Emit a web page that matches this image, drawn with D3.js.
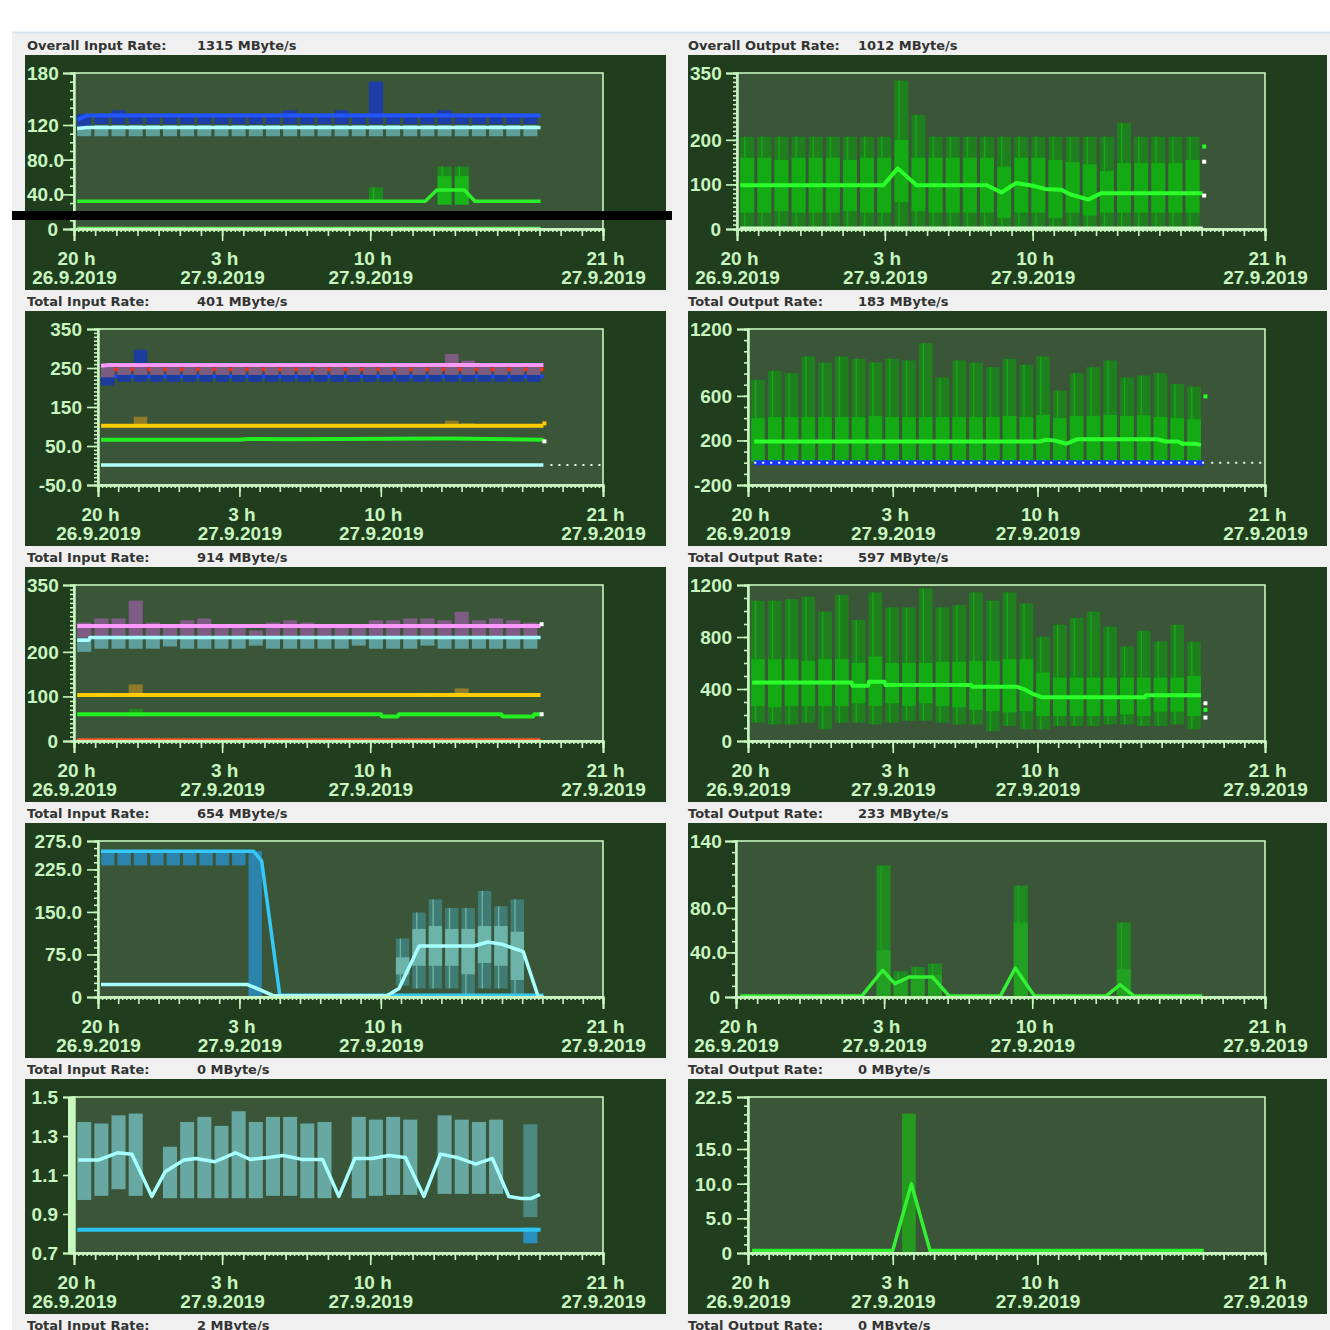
<!DOCTYPE html>
<html><head><meta charset="utf-8">
<script src="https://cdn.jsdelivr.net/npm/d3@7"></script>
<style>html,body{margin:0;padding:0;background:#fff;}svg{display:block;}</style>
</head><body>
<svg id="c" width="1330" height="1330"></svg>
<script>
// ================= DATA =================
const HOUR_TICKS = [0, 7, 14, 25];
const HOUR_LABELS = ["20 h", "3 h", "10 h", "21 h"];
const DATE_LABELS = ["26.9.2019", "27.9.2019", "27.9.2019", "27.9.2019"];

const TITLES = ["Overall Input Rate:", "Overall Output Rate:", "Total Input Rate:", "Total Output Rate:",
  "Total Input Rate:", "Total Output Rate:", "Total Input Rate:", "Total Output Rate:",
  "Total Input Rate:", "Total Output Rate:", "Total Input Rate:", "Total Output Rate:"];
const RATES = ["1315 MByte/s", "1012 MByte/s", "401 MByte/s", "183 MByte/s", "914 MByte/s", "597 MByte/s",
  "654 MByte/s", "233 MByte/s", "0 MByte/s", "0 MByte/s", "2 MByte/s", "0 MByte/s"];

// panel 1
const p1Ticks = [0, 40, 80, 120, 180], p1Labels = ["0", "40.0", "80.0", "120", "180"];
const p1BlueMax = [133,133,137,133,133,133,133,133,133,133,133,133,137,133,133,137,133,170,133,133,133,137,133,133,133,133,133];
const p1BlueMin = [118,121,121,121,121,121,121,121,121,121,121,121,121,121,121,121,121,121,121,121,121,121,121,121,121,121,121];
const p1TealMax = [120,120,120,120,120,120,120,120,120,120,120,120,120,120,120,120,120,120,120,120,120,120,120,120,120,120,120];
const p1TealMin = [107,107,107,107,107,107,107,107,107,107,107,107,107,107,107,107,107,107,107,107,107,107,107,107,107,107,107];
const p1BlueLine = [[0.15,126],[0.6,131],[22.05,131]];
const p1CyanLine = [[0.15,116],[0.6,117],[22.05,117]];
const p1GreenIdx = [17, 21, 22], p1GreenMin = [32, 30, 30], p1GreenQ1 = [32, 28, 28], p1GreenQ3 = [32, 61, 61], p1GreenMax = [48, 72, 72];
const p1GreenLine = [[0.15,32],[16.6,32],[17.15,45],[18.45,45],[18.95,32],[22.05,32]];
const p1ZeroLine = [[0.15,1],[22.05,1]];

// panel 2
const p2Ticks = [0, 100, 200, 350], p2Labels = ["0", "100", "200", "350"];
const p2Min = [4,4,4,4,4,4,4,4,4,4,4,4,4,4,4,4,4,4,4,4,4,4,4,4,4,4,4];
const p2Q1 = [37,37,40,37,37,37,40,37,37,60,40,37,37,37,37,25,37,37,25,37,30,37,37,37,37,37,37];
const p2Q3 = [160,160,155,160,160,160,155,160,160,200,160,160,160,160,160,140,160,160,155,150,145,130,148,148,148,148,155];
const p2Max = [207,207,207,207,207,207,207,207,207,333,256,207,207,207,207,207,207,207,207,207,207,207,238,207,207,207,207];
const p2Mean = [[0.15,98],[6.93,98],[7.61,136],[8.5,98],[11.83,98],[12.52,82],[13.2,103],[14,97],[14.58,90],[15.36,88],[15.76,78],[16.64,66],[17.23,80],[22.04,80]];
const p2ZeroLine = [[0.15,2],[22.05,2]];
const p2EndVals = [185, 151, 75];

// panel 3
const p3Ticks = [-50, 50, 150, 250, 350], p3Labels = ["-50.0", "50.0", "150", "250", "350"];
const p3PurpleMax = [258,258,258,258,258,258,258,258,258,258,258,258,258,258,258,258,258,258,258,258,258,286,269,258,258,258,258];
const p3PurpleMin = [226,232,232,232,232,232,232,232,232,232,232,232,232,232,232,232,232,232,232,232,232,232,232,232,232,232,232];
const p3BlueMax = [232,232,297,232,232,232,232,232,232,232,232,232,232,232,232,232,232,232,232,232,232,232,232,232,232,232,232];
const p3BlueMin = [205,214,214,214,214,214,214,214,214,214,214,214,214,214,214,214,214,214,214,214,214,214,214,214,214,214,214];
const p3YellowIdx = [2, 21, 22], p3YellowMin = [100, 100, 100], p3YellowMax = [125, 115, 108];
const p3PinkLine = [[0.15,256],[0.6,258],[22.05,258]];
const p3RedLine = [[0.15,247],[22.05,247]];
const p3BlueLine = [[0.15,222],[0.6,229],[22.05,229]];
const p3YellowLine = [[0.15,102],[22.05,102]];
const p3GreenLine = [[0.15,66],[7.0,66],[7.4,68],[9.5,67],[16.9,69],[17.6,69],[22.05,66]];
const p3CyanLine = [[0.15,1],[22.05,1]];
const p3DotLine = [[22.4,1],[25,1]];

// panel 4
const p4Ticks = [-200, 200, 600, 1200], p4Labels = ["-200", "200", "600", "1200"];
const p4Max = [744,825,804,954,900,954,933,900,933,918,1074,765,918,900,858,933,879,954,648,804,858,918,765,783,804,705,684];
const p4Q3 = [400,410,410,410,410,410,410,420,410,410,410,410,410,410,410,420,410,430,400,420,420,430,420,425,410,400,390];
const p4Q1 = [10,10,10,10,10,10,10,10,10,10,10,10,10,10,10,10,10,10,10,10,10,10,10,10,10,10,10];
const p4Min = [0,0,0,0,0,0,0,0,0,0,0,0,0,0,0,0,0,0,0,0,0,0,0,0,0,0,0];
const p4Mean = [[0.3,190],[14.1,190],[14.4,205],[14.8,200],[15.4,170],[15.9,210],[19.8,210],[20.2,190],[20.8,190],[21.0,170],[21.6,170],[21.9,160]];
const p4BlueLine = [[0.3,0],[22.05,0]];
const p4DotLine = [[22.4,0],[25,0]];
const p4EndVal = [595];

// panel 5
const p5Ticks = [0, 100, 200, 350], p5Labels = ["0", "100", "200", "350"];
const p5PurpleMax = [266,275,275,315,266,255,271,275,255,255,248,266,271,266,255,255,255,271,271,275,275,271,290,271,275,271,266];
const p5PurpleMin = [232,232,232,232,232,232,232,232,232,232,232,232,232,232,232,232,232,232,232,232,232,232,232,232,232,232,232];
const p5TealMax = [232,232,232,232,232,232,232,232,232,232,232,232,232,232,232,232,232,232,232,232,232,232,232,232,232,232,232];
const p5TealMin = [200,207,207,207,207,212,207,207,207,207,214,207,207,207,207,207,214,207,207,207,214,207,207,207,207,207,207];
const p5YellowIdx = [1, 3, 20, 22, 24], p5YellowMin = [100,100,100,100,100], p5YellowMax = [108,127,108,118,107];
const p5GreenIdx = [3], p5GreenMin = [55], p5GreenMax = [72];
const p5PinkLine = [[0.15,258],[22.05,258]];
const p5CyanLine = [[0.15,226],[0.7,226],[0.75,232],[22.05,232]];
const p5YellowLine = [[0.15,103],[22.05,103]];
const p5GreenLine = [[0.15,60],[14.5,60],[14.55,55],[15.3,55],[15.35,60],[20.2,60],[20.25,55],[21.7,55],[21.75,60],[22.05,60]];
const p5OrangeLine = [[0.15,3],[22.05,3]];
const p5EndVals = [262, 60];

// panel 6
const p6Ticks = [0, 400, 800, 1200], p6Labels = ["0", "400", "800", "1200"];
const p6Min = [141,128,128,141,90,141,141,128,141,155,155,141,128,128,77,115,90,90,115,115,115,128,128,115,115,128,90];
const p6Q1 = [270,260,270,270,270,270,290,270,290,270,290,270,260,240,230,220,230,193,193,193,193,193,205,193,225,225,193];
const p6Q3 = [630,630,630,615,630,630,600,650,600,600,600,610,610,615,615,630,630,527,488,488,488,488,488,488,488,488,500];
const p6Max = [1079,1079,1092,1110,995,1125,931,1143,1028,1028,1174,1028,1046,1143,1079,1143,1058,802,894,946,995,879,727,848,766,894,763];
const p6Mean = [[0.2,450],[5,450],[5.05,425],[5.8,425],[5.85,455],[6.6,455],[6.65,430],[10.8,430],[10.85,418],[13,418],[13.4,395],[13.8,360],[14.2,337],[19.2,337],[19.25,352],[21.9,352]];
const p6EndVals = [290, 240, 180];

// panel 7
const p7Ticks = [0, 75, 150, 225, 275], p7Labels = ["0", "75.0", "150.0", "225.0", "275.0"];
const p7BlueIdx = [0,1,2,3,4,5,6,7,8,9];
const p7BlueMin = [232,232,232,232,232,232,232,232,232,0];
const p7BlueMax = [257,257,257,257,257,257,257,257,257,257];
const p7BlueLine = [[0.15,257],[7.7,257],[8.1,240],[9.0,3],[22.05,3]];
const p7CyanLine = [[0.15,22],[7.4,22],[8.2,10],[8.7,2],[14.3,2],[14.9,15],[15.9,90],[18.6,90],[19.3,97],[20,93],[21.05,80],[21.8,0],[22.05,0]];
const p7TealIdx = [18,19,20,21,22,23,24,25];
const p7TealMin = [20,15,15,15,2,15,15,2];
const p7TealQ1 = [40,55,55,55,40,60,55,30];
const p7TealQ3 = [70,120,125,120,120,125,125,115];
const p7TealMax = [103,149,172,157,157,187,160,172];

// panel 8
const p8Ticks = [0, 40, 80, 140], p8Labels = ["0", "40.0", "80.0", "140"];
const p8Idx = [8, 9, 10, 11, 16, 22];
const p8Min = [0, 0, 0, 0, 0, 0];
const p8Q3 = [42, 15, 18, 20, 67, 25];
const p8Max = [118, 23, 27, 30, 100, 67];
const p8Line = [[0.2,1],[5.95,1],[6.93,24],[7.5,12],[8.2,18],[9.28,18],[10.07,1],[12.5,1],[13.2,26],[14.1,1],[17.5,1],[18.15,11],[18.8,1],[22.04,1]];

// panel 9
const p9Ticks = [0.7, 0.9, 1.1, 1.3, 1.5], p9Labels = ["0.7", "0.9", "1.1", "1.3", "1.5"];
const p9Idx = [0,1,2,3,5,6,7,8,9,10,11,12,13,14,16,17,18,19,21,22,23,24];
const p9Min = [0.972,0.993,1.027,0.993,0.981,0.981,0.981,0.981,0.981,0.981,0.993,0.993,0.981,0.981,0.981,0.993,0.998,0.998,1.003,1.003,1.003,1.003];
const p9Max = [1.372,1.364,1.406,1.415,1.245,1.372,1.398,1.352,1.427,1.372,1.398,1.398,1.364,1.372,1.398,1.384,1.398,1.384,1.406,1.384,1.372,1.384];
const p9LastIdx = [26], p9LastMin = [0.884], p9LastMax = [1.36];
const p9BlueIdx = [26], p9BlueMin = [0.75], p9BlueMax = [0.83];
const p9CyanLine = [[0.2,1.177],[1.17,1.177],[2.05,1.214],[2.74,1.207],[3.68,0.99],[4.31,1.117],[5.19,1.177],[5.77,1.185],[6.65,1.168],[7.63,1.214],[8.32,1.18],[9.2,1.19],[9.88,1.2],[10.76,1.18],[11.74,1.18],[12.52,0.99],[13.27,1.185],[14.09,1.185],[14.87,1.2],[15.66,1.19],[16.54,0.99],[17.32,1.207],[18.1,1.19],[18.98,1.156],[19.77,1.185],[20.55,0.99],[21.14,0.98],[21.62,0.98],[22.02,1.0]];
const p9BlueLine = [[0.15,0.819],[22.05,0.819]];

// panel 10
const p10Ticks = [0, 5, 10, 15, 22.5], p10Labels = ["0", "5.0", "10.0", "15.0", "22.5"];
const p10Idx = [9], p10Min = [0], p10Max = [20.1];
const p10Line = [[0.2,0.35],[7.0,0.35],[7.9,9.97],[8.8,0.35],[22.04,0.35]];

// ================= LAYOUT / DRAWING =================
const BAR_START = 0.15, BAR_STEP = 0.811, BAR_W = 0.811 * 0.82;
const C = {outer: "#203e1d", plot: "#3a5537", axis: "#c8f5c0", box: "#13aa13", range: "#1f7f1f", mean: "#2bff2b"};
const TICK_FONT = "'Liberation Sans',Arial,sans-serif";

const svg = d3.select("#c");
svg.append("rect").attr("width", 1330).attr("height", 1330).attr("fill", "#ffffff");
svg.append("rect").attr("x", 12).attr("y", 33).attr("width", 1318).attr("height", 1297).attr("fill", "#f0f0f0");
svg.append("line").attr("x1", 12).attr("x2", 1330).attr("y1", 32.5).attr("y2", 32.5).attr("stroke", "#d5e3f2").attr("stroke-width", 2);

const ROW0 = 55, PITCH = 256;
const panelLayouts = [
  {row:0,col:0,left:74},{row:0,col:1,left:737},
  {row:1,col:0,left:98},{row:1,col:1,left:748},
  {row:2,col:0,left:74},{row:2,col:1,left:748},
  {row:3,col:0,left:98},{row:3,col:1,left:736},
  {row:4,col:0,left:74},{row:4,col:1,left:748}];

function titleText(k, row, col) {
  const ty = ROW0 + row * PITCH - 10;
  const tx = col ? 688 : 27, vx = col ? 858 : 197;
  const g = svg.append("g").style("font-family", "'DejaVu Sans',sans-serif").style("font-size", "13px")
    .style("font-weight", "bold").attr("fill", "#333333");
  g.append("text").attr("x", tx).attr("y", ty).attr("dominant-baseline", "central").text(TITLES[k]);
  g.append("text").attr("x", vx).attr("y", ty).attr("dominant-baseline", "central").text(RATES[k]);
}

function styleAxis(sel) {
  sel.select(".domain").attr("stroke", C.axis).attr("stroke-width", 2);
  sel.selectAll(".tick line").attr("stroke", C.axis).attr("stroke-width", 1.6);
  sel.selectAll(".tick text").attr("fill", C.axis)
    .style("font-family", TICK_FONT).style("font-size", "19px").style("font-weight", "bold").style("letter-spacing", "0px");
}

function makePanel(k, yDomain, tickVals, tickLabels, minorStep) {
  const L = panelLayouts[k];
  const top = ROW0 + L.row * PITCH;
  const ox = L.col ? 688 : 25, ow = L.col ? 639 : 641;
  const right = L.col ? 1265 : 603;
  const pTop = top + 18, pBot = top + 174;
  titleText(k, L.row, L.col);
  const g = svg.append("g");
  g.append("rect").attr("x", ox).attr("y", top).attr("width", ow).attr("height", 235).attr("fill", C.outer);
  g.append("rect").attr("x", L.left).attr("y", pTop).attr("width", right - L.left).attr("height", pBot - pTop).attr("fill", C.plot);
  const x = d3.scaleLinear().domain([0, 25]).range([L.left, right]);
  const y = d3.scaleLinear().domain(yDomain).range([pBot, pTop]);
  const marks = g.append("g");
  const ag = g.append("g");
  ag.append("rect").attr("x", L.left).attr("y", pTop).attr("width", right - L.left).attr("height", pBot - pTop)
    .attr("fill", "none").attr("stroke", C.axis).attr("stroke-width", 1.6);
  const minor = d3.range(yDomain[0], yDomain[1] + minorStep / 2, minorStep);
  ag.append("g").attr("transform", `translate(${L.left},0)`)
    .call(d3.axisLeft(y).tickValues(minor).tickSize(4).tickFormat("")).call(styleAxis);
  ag.append("g").attr("transform", `translate(${L.left},0)`)
    .call(d3.axisLeft(y).tickValues(tickVals).tickSize(11).tickPadding(5).tickFormat((d, i) => tickLabels[i]))
    .call(styleAxis)
    .call(s => s.selectAll(".tick text").attr("dy", null).attr("dominant-baseline", "central").each(function () {
      // keep label inside the dark panel: push it right over the tick when it is too wide
      const w = this.getComputedTextLength();
      const xr = -16;
      const minLeft = ox + 2 - L.left;
      if (xr - w < minLeft) d3.select(this).attr("x", minLeft + w);
    }));
  ag.append("g").attr("transform", `translate(0,${pBot})`)
    .call(d3.axisBottom(x).tickValues(d3.range(0, 25.001, 0.2)).tickSize(3).tickFormat("")).call(styleAxis);
  ag.append("g").attr("transform", `translate(0,${pBot})`)
    .call(d3.axisBottom(x).tickValues(d3.range(0, 26, 1)).tickSize(7).tickFormat("")).call(styleAxis);
  ag.append("g").attr("transform", `translate(0,${pBot})`)
    .call(d3.axisBottom(x).tickValues(HOUR_TICKS).tickSize(12).tickFormat((d, i) => HOUR_LABELS[i]))
    .call(styleAxis)
    .call(s => s.selectAll(".tick text").each(function (d, i) {
      const t = d3.select(this).attr("y", null).attr("dy", null).text(null);
      t.append("tspan").attr("x", 2).attr("y", 29).attr("dominant-baseline", "central").text(HOUR_LABELS[i]);
      t.append("tspan").attr("x", 0).attr("y", 48).attr("dominant-baseline", "central").text(DATE_LABELS[i]);
    }));
  return {x, y, marks, ag, L, pTop, pBot};
}

const barT = i => BAR_START + i * BAR_STEP;
function line(P, pts, color, w, dash) {
  P.marks.append("path").datum(pts)
    .attr("d", d3.line().x(d => P.x(d[0])).y(d => P.y(d[1])))
    .attr("fill", "none").attr("stroke", color).attr("stroke-width", w)
    .attr("stroke-dasharray", dash || null).attr("stroke-linejoin", "round");
}
function bars(P, idx, lo, hi, color, opacity, frac0, frac1) {
  const f0 = frac0 ?? 0, f1 = frac1 ?? 1;
  P.marks.append("g").selectAll("rect").data(idx.map((i, k) => ({i, lo: lo[k], hi: hi[k]}))).join("rect")
    .attr("x", d => P.x(barT(d.i) + BAR_W * f0))
    .attr("width", d => P.x(barT(d.i) + BAR_W * f1) - P.x(barT(d.i) + BAR_W * f0))
    .attr("y", d => P.y(d.hi)).attr("height", d => Math.max(1.5, P.y(d.lo) - P.y(d.hi)))
    .attr("fill", color).attr("opacity", opacity ?? 1);
}
function boxBars(P, idx, mn, q1, q3, mx, cRange, cBox) {
  bars(P, idx, mn, mx, cRange);
  bars(P, idx, q1, q3, cBox);
  bars(P, idx, mn, mx, cBox, 1, 0.28, 0.38);
}
function endDots(P, t, vals, colors) {
  P.marks.append("g").selectAll("rect").data(vals).join("rect")
    .attr("x", P.x(t) - 2).attr("y", d => P.y(d) - 2).attr("width", 4).attr("height", 4)
    .attr("fill", (d, i) => colors[i]);
}
const all27 = d3.range(27);

// ---- Panel 1
{
  const P = makePanel(0, [0, 180], p1Ticks, p1Labels, 10);
  bars(P, all27, p1TealMin, p1TealMax, "#5d9e9b");
  bars(P, all27, p1BlueMin, p1BlueMax, "#1c3ea6");
  line(P, p1BlueLine, "#2255ff", 4);
  line(P, p1CyanLine, "#b0ffff", 3.5);
  boxBars(P, p1GreenIdx, p1GreenMin, p1GreenQ1, p1GreenQ3, p1GreenMax, "#1d8a1d", "#18b418");
  line(P, p1GreenLine, "#2cf02c", 3.5);
  line(P, p1ZeroLine, "#66ee66", 3);
}
// ---- Panel 2
{
  const P = makePanel(1, [0, 350], p2Ticks, p2Labels, 10);
  boxBars(P, all27, p2Min, p2Q1, p2Q3, p2Max, C.range, C.box);
  line(P, p2ZeroLine, "#d6ffd0", 3);
  line(P, p2Mean, C.mean, 4);
  endDots(P, 22.12, p2EndVals, ["#22ff22", "#ffffff", "#ffffff"]);
}
// ---- Panel 3
{
  const P = makePanel(2, [-50, 350], p3Ticks, p3Labels, 10);
  line(P, p3RedLine, "#ff2a1a", 4);
  line(P, p3BlueLine, "#1e44ff", 4);
  bars(P, all27, p3BlueMin, p3BlueMax, "#1c3c9e");
  bars(P, all27, p3PurpleMin, p3PurpleMax, "#7d5c82");
  line(P, p3PinkLine, "#ff99ff", 4);
  bars(P, p3YellowIdx, p3YellowMin, p3YellowMax, "#8e7c2a");
  line(P, p3YellowLine, "#ffcc00", 4);
  line(P, p3GreenLine, "#22ee22", 4);
  line(P, p3CyanLine, "#b0ffff", 3.5);
  line(P, p3DotLine, "#e8ffe8", 2, "2,6");
  endDots(P, 22.1, [108, 62], ["#ffcc00", "#ffffff"]);
}
// ---- Panel 4
{
  const P = makePanel(3, [-200, 1200], p4Ticks, p4Labels, 100);
  boxBars(P, all27, p4Min, p4Q1, p4Q3, p4Max, C.range, C.box);
  line(P, p4Mean, C.mean, 4);
  line(P, p4BlueLine, "#1a36ff", 5);
  line(P, p4BlueLine, "#ffffff", 2, "2,6");
  line(P, p4DotLine, "#e8ffe8", 2, "2,6");
  endDots(P, 22.12, p4EndVal, ["#22ff22"]);
}
// ---- Panel 5
{
  const P = makePanel(4, [0, 350], p5Ticks, p5Labels, 10);
  bars(P, all27, p5TealMin, p5TealMax, "#5e9e9c");
  bars(P, all27, p5PurpleMin, p5PurpleMax, "#7f5c86");
  line(P, p5PinkLine, "#ff99ff", 4);
  line(P, p5CyanLine, "#a8ffff", 3.5);
  bars(P, p5YellowIdx, p5YellowMin, p5YellowMax, "#8e7c2a");
  line(P, p5YellowLine, "#ffcc00", 4);
  bars(P, p5GreenIdx, p5GreenMin, p5GreenMax, "#1d8a1d");
  line(P, p5GreenLine, "#22ee22", 4);
  line(P, p5OrangeLine, "#ff5a28", 3);
  endDots(P, 22.1, p5EndVals, ["#ffffff", "#ffffff"]);
}
// ---- Panel 6
{
  const P = makePanel(5, [0, 1200], p6Ticks, p6Labels, 100);
  boxBars(P, all27, p6Min, p6Q1, p6Q3, p6Max, C.range, C.box);
  line(P, p6Mean, C.mean, 4);
  endDots(P, 22.12, p6EndVals, ["#ffffff", "#22ff22", "#ffffff"]);
}
// ---- Panel 7
{
  const P = makePanel(6, [0, 275], p7Ticks, p7Labels, 12.5);
  bars(P, p7BlueIdx, p7BlueMin, p7BlueMax, "#2c84ac");
  boxBars(P, p7TealIdx, p7TealMin, p7TealQ1, p7TealQ3, p7TealMax, "#3f7d74", "#6cb3aa");
  line(P, p7BlueLine, "#35c8f8", 3.5);
  line(P, p7CyanLine, "#a8ffff", 3.5);
}
// ---- Panel 8
{
  const P = makePanel(7, [0, 140], p8Ticks, p8Labels, 10);
  boxBars(P, p8Idx, p8Min, p8Min, p8Q3, p8Max, "#1f8a1f", "#22a022");
  line(P, p8Line, "#33f033", 3.5);
}
// ---- Panel 9
{
  const P = makePanel(8, [0.7, 1.5], p9Ticks, p9Labels, 0.05);
  P.ag.append("rect").attr("x", P.L.left - 6).attr("y", P.pTop).attr("width", 6).attr("height", P.pBot - P.pTop).attr("fill", C.axis);
  bars(P, p9Idx, p9Min, p9Max, "#67a8a3");
  bars(P, p9LastIdx, p9LastMin, p9LastMax, "#4b8a82");
  bars(P, p9BlueIdx, p9BlueMin, p9BlueMax, "#2a90c0");
  line(P, p9BlueLine, "#2ec4f2", 4);
  line(P, p9CyanLine, "#a8ffff", 3.5);
}
// ---- Panel 10
{
  const P = makePanel(9, [0, 22.5], p10Ticks, p10Labels, 1.25);
  bars(P, p10Idx, p10Min, p10Max, "#26991f");
  line(P, p10Line, "#33f033", 3.5);
}
// bottom (cut-off) titles
titleText(10, 5, 0);
titleText(11, 5, 1);
// black annotation bar across first panel
svg.append("rect").attr("x", 12).attr("y", 211).attr("width", 660).attr("height", 9).attr("fill", "#000");
</script>
</body></html>
